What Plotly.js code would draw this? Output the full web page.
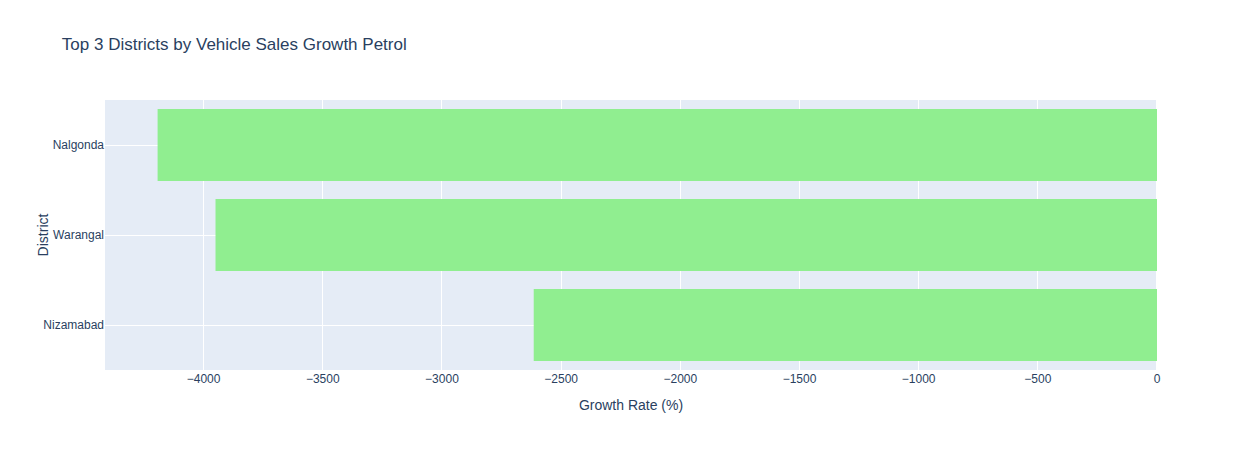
<!DOCTYPE html>
<html>
<head>
<meta charset="utf-8">
<script src="https://cdn.plot.ly/plotly-3.0.1.min.js"></script>
<style>body{margin:0}</style>
</head>
<body>
<div id="chart" style="width:1237px;height:450px"></div>
<script>
// values, bottom to top
const districts = ["Nizamabad", "Warangal", "Nalgonda"];
const growthRates = [-2615, -3950, -4193];

const data = [{
    type: "bar",
    orientation: "h",
    x: growthRates,
    y: districts,
    marker: { color: "lightgreen" }
}];

const layout = {
    width: 1237,
    height: 450,
    font: { family: "Arial, Liberation Sans, sans-serif", color: "#2a3f5f", size: 12 },
    title: { text: "Top 3 Districts by Vehicle Sales Growth Petrol", x: 0.05, font: { size: 17 } },
    margin: { l: 105, r: 80, t: 100, b: 80 },
    xaxis: {
        title: { text: "Growth Rate (%)", standoff: 15 },
        gridcolor: "white", zerolinecolor: "white", zerolinewidth: 2
    },
    yaxis: { title: { text: "District" }, gridcolor: "white" },
    plot_bgcolor: "#E5ECF6",
    paper_bgcolor: "white"
};

Plotly.newPlot("chart", data, layout, { displayModeBar: false });
</script>
</body>
</html>
